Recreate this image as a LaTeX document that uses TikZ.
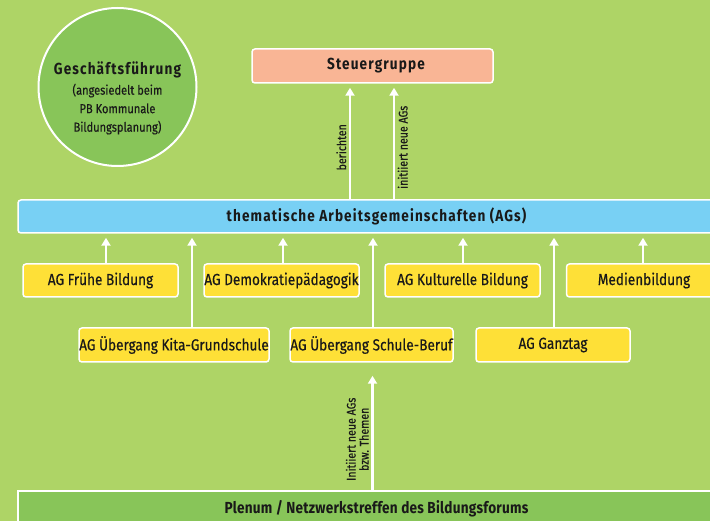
\documentclass[tikz,border=0pt]{standalone}
\usepackage{fontspec}
\setmainfont{Fira Sans}[FakeStretch=0.85,FakeBold=0.35]
\newfontfamily\spbold{Fira Sans Bold}[FakeStretch=0.85,LetterSpace=7]
\newfontfamily\plbold{Fira Sans Bold}[FakeStretch=0.85,LetterSpace=1.5]
\usetikzlibrary{arrows.meta,positioning}
\definecolor{bg}{RGB}{174,212,102}
\definecolor{dgreen}{RGB}{136,197,89}
\definecolor{salmon}{RGB}{249,181,149}
\definecolor{sky}{RGB}{120,208,244}
\definecolor{yel}{RGB}{254,224,55}
\definecolor{ink}{RGB}{25,25,25}
\begin{document}
\begin{tikzpicture}[x=1pt,y=-1pt,
  box/.style={draw=white,line width=1.5pt,rounded corners=3pt,inner sep=0pt,text=ink},
  agbox/.style={box,fill=yel,minimum height=33pt,font=\fontsize{16}{18}\selectfont},
  headbox/.style={box,minimum height=33pt,font=\spbold\fontsize{16}{18}\selectfont},
  arr/.style={white,line width=2.5pt,-{Triangle[width=9pt,length=8pt]}},
  lab/.style={font=\fontsize{12.5}{13.5}\selectfont,text=ink,inner sep=2.5pt,align=center}]
\fill[bg] (0,0) rectangle (710,521);
\useasboundingbox (0,0) rectangle (710,521);

% circle
\node[circle,draw=white,line width=2pt,fill=dgreen,minimum size=158pt,inner sep=0pt] (gf) at (117.5,87) {};
\node[font=\spbold\fontsize{16}{18}\selectfont,text=ink,inner sep=0pt] (gft) at (117.5,70) {Geschäftsführung};
\node[lab,font=\fontsize{13}{18.5}\selectfont,anchor=north] (gfs) at (117.5,81) {(angesiedelt beim\\PB Kommunale\\Bildungsplanung)};

% boxes
\node[headbox,fill=salmon,minimum width=241pt,minimum height=34pt] (steuer) at (372.5,66) {};
\node[font=\spbold\fontsize{16}{18}\selectfont,text=ink,inner sep=0pt] (steuert) at (376,66) {Steuergruppe};
\node[headbox,fill=sky,minimum width=717pt] (ags) at (376.5,216.5) {thematische Arbeitsgemeinschaften (AGs)};

\node[agbox,minimum width=155pt] (frueh) at (100.5,280.5) {AG Frühe Bildung};
\node[agbox,minimum width=155pt] (demo) at (281.5,280.5) {AG Demokratiepädagogik};
\node[agbox,minimum width=155pt] (kult) at (462.5,280.5) {AG Kulturelle Bildung};
\node[agbox,minimum width=155pt] (medien) at (644,280.5) {Medienbildung};

\node[agbox,minimum width=190pt,minimum height=34pt] (kita) at (174,345) {AG Übergang Kita-Grundschule};
\node[agbox,minimum width=163pt,minimum height=34pt] (schule) at (371.5,345) {AG Übergang Schule-Beruf};
\node[agbox,minimum width=154pt,minimum height=34pt] (ganz) at (553,345) {AG Ganztag};

\node[box,fill=dgreen,minimum width=717pt,minimum height=40pt,rounded corners=0pt] (plenum) at (376.5,511) {};
\node[font=\plbold\fontsize{16}{18}\selectfont,text=ink] (plt) at (376.5,509) {Plenum / Netzwerkstreffen des Bildungsforums};

% arrows
\draw[arr,shorten >=4pt] ([xshift=-22.5pt]steuer.south |- ags.north) -- ([xshift=-22.5pt]steuer.south)
  node[lab,pos=0.45,sloped,above] (l1) {berichten};
\draw[arr,shorten >=4pt] ([xshift=21.5pt]steuer.south |- ags.north) -- ([xshift=21.5pt]steuer.south)
  node[lab,pos=0.45,sloped,below] (l2) {initiiert neue AGs};

\draw[arr,shorten >=4pt] ([xshift=5.5pt]frueh.north) -- ([xshift=5.5pt]frueh.north |- ags.south);
\draw[arr,shorten >=4pt] ([xshift=1.5pt]demo.north) -- ([xshift=1.5pt]demo.north |- ags.south);
\draw[arr,shorten >=4pt] ([xshift=0.5pt]kult.north) -- ([xshift=0.5pt]kult.north |- ags.south);
\draw[arr,shorten >=4pt] ([xshift=-1pt]medien.north) -- ([xshift=-1pt]medien.north |- ags.south);
\draw[arr,shorten >=4pt] ([xshift=18pt]kita.north) -- ([xshift=18pt]kita.north |- ags.south);
\draw[arr,shorten >=4pt] ([xshift=1.5pt]schule.north) -- ([xshift=1.5pt]schule.north |- ags.south);
\draw[arr,shorten >=4pt] ([xshift=1pt]ganz.north) -- ([xshift=1pt]ganz.north |- ags.south);

\draw[arr,shorten >=13pt] ([xshift=1pt]schule.south |- plenum.north) -- ([xshift=1pt]schule.south)
  node[lab,pos=0.4,sloped,above,font=\fontsize{12.5}{13}\selectfont] (l3) {Initiiert neue AGs\\bzw. Themen};
\end{tikzpicture}
\end{document}
